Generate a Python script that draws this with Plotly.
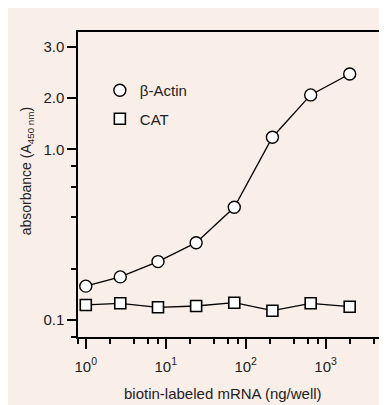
import plotly.graph_objects as go

# Data
x_ng = [1, 2.7, 8, 24, 72, 216, 650, 2000]
actin = [0.158, 0.179, 0.220, 0.284, 0.458, 1.18, 2.09, 2.77]
cat = [0.1225, 0.1253, 0.1187, 0.1208, 0.1263, 0.1134, 0.1253, 0.1197]

x_major = [1, 10, 100, 1000]
x_major_text = ["10<sup>0</sup>", "10<sup>1</sup>", "10<sup>2</sup>", "10<sup>3</sup>"]
x_minor = [0.8, 2, 4, 6, 8, 20, 40, 60, 80, 200, 400, 600, 800, 2000, 4000]
y_major = [4, 2, 1, 0.1]
y_major_text = ["3.0", "2.0", "1.0", "0.1"]
y_minor = [0.08, 0.2, 0.4, 0.6, 0.8]

FONT = "Liberation Sans, Arial, sans-serif"
TXT = "#222222"
BG = "#FAEEE9"

# page has an 8px body margin; figure occupies the rest
W, H = 379, 397
L, R, T, B = 70, 3, 24, 68
pw, ph = W - L - R, H - T - B

def px2paper_x(px):
    return (px - L) / pw

def px2paper_y(py):
    return (H - B - py) / ph

fig = go.Figure()
fig.add_trace(go.Scatter(
    x=x_ng, y=actin, mode="lines+markers", name="β-Actin", showlegend=False,
    line=dict(color="black", width=1.3),
    marker=dict(symbol="circle", size=12, color="white", line=dict(color="black", width=1.4)),
))
fig.add_trace(go.Scatter(
    x=x_ng, y=cat, mode="lines+markers", name="CAT", showlegend=False,
    line=dict(color="black", width=1.3),
    marker=dict(symbol="square", size=11, color="white", line=dict(color="black", width=1.6)),
))
# legend entries (markers only, as in the reference)
fig.add_trace(go.Scatter(
    x=[None], y=[None], mode="markers", name="β-Actin", legendgroup="a",
    marker=dict(symbol="circle", size=12, color="white", line=dict(color="black", width=1.4)),
))
fig.add_trace(go.Scatter(
    x=[None], y=[None], mode="markers", name="CAT", legendgroup="c",
    marker=dict(symbol="square", size=11, color="white", line=dict(color="black", width=1.6)),
))

fig.update_xaxes(
    type="log", range=[-0.0975, 3.705],
    tickvals=x_major, ticktext=x_major_text,
    ticks="outside", ticklen=10, tickwidth=1.5, tickcolor="black",
    ticklabelstandoff=5,
    minor=dict(tickvals=x_minor, ticks="outside", ticklen=5, tickwidth=1.5, tickcolor="black"),
    showline=True, linecolor="black", linewidth=1.5, mirror=True,
    showgrid=False, zeroline=False,
    tickfont=dict(family=FONT, size=15, color=TXT),
)
fig.update_yaxes(
    type="log", range=[-1.0997, 0.689],
    tickvals=y_major, ticktext=y_major_text,
    ticks="outside", ticklen=9, tickwidth=1.5, tickcolor="black",
    minor=dict(tickvals=y_minor, ticks="outside", ticklen=5, tickwidth=1.5, tickcolor="black"),
    showline=True, linecolor="black", linewidth=1.5, mirror=True,
    showgrid=False, zeroline=False,
    tickfont=dict(family=FONT, size=15, color=TXT),
)

fig.add_annotation(text="biotin-labeled mRNA (ng/well)", xref="paper", yref="paper",
                   x=px2paper_x(216), y=px2paper_y(386), showarrow=False,
                   xanchor="center", yanchor="middle",
                   font=dict(family=FONT, size=15, color=TXT))
fig.add_annotation(text="absorbance (A<sub>450 nm</sub>)", xref="paper", yref="paper",
                   x=px2paper_x(19), y=px2paper_y(163), showarrow=False, textangle=-90,
                   xanchor="center", yanchor="middle",
                   font=dict(family=FONT, size=14, color=TXT))

fig.update_layout(
    width=W, height=H,
    margin=dict(l=L, r=R, t=T, b=B),
    paper_bgcolor=BG, plot_bgcolor=BG,
    showlegend=True,
    legend=dict(x=px2paper_x(92), y=px2paper_y(66), xanchor="left", yanchor="top",
                bgcolor="rgba(0,0,0,0)", traceorder="grouped", tracegroupgap=6,
                font=dict(family=FONT, size=15, color=TXT)),
)

fig.write_html("out.html", post_script="document.body.style.overflow='hidden';")
